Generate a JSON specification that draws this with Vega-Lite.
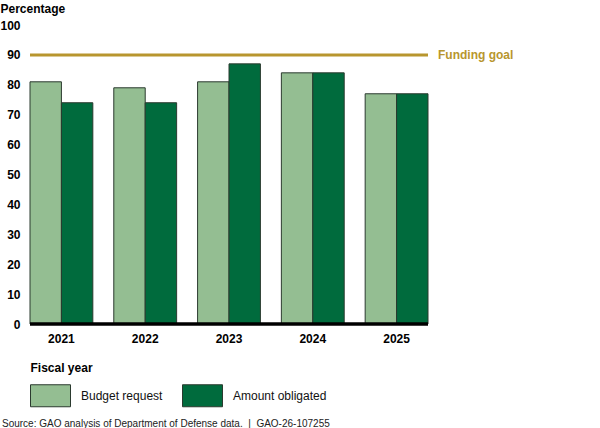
{
  "$schema": "https://vega.github.io/schema/vega-lite/v6.json",
  "width": 398,
  "height": 299,
  "autosize": {"type": "none"},
  "padding": {"left": 30, "top": 25, "right": 172, "bottom": 104},
  "background": "white",
  "title": {
    "text": "Source: GAO analysis of Department of Defense data.\u00a0 |\u00a0 GAO-26-107255",
    "orient": "bottom",
    "anchor": "start",
    "frame": "group",
    "font": "Liberation Sans",
    "fontSize": 10,
    "fontWeight": "normal",
    "color": "#222",
    "dx": -28,
    "offset": 10
  },
  "datasets": {
    "bars": [
      {"year": "2021", "series": "Budget request", "value": 81},
      {"year": "2021", "series": "Amount obligated", "value": 74},
      {"year": "2022", "series": "Budget request", "value": 79},
      {"year": "2022", "series": "Amount obligated", "value": 74},
      {"year": "2023", "series": "Budget request", "value": 81},
      {"year": "2023", "series": "Amount obligated", "value": 87},
      {"year": "2024", "series": "Budget request", "value": 84},
      {"year": "2024", "series": "Amount obligated", "value": 84},
      {"year": "2025", "series": "Budget request", "value": 77},
      {"year": "2025", "series": "Amount obligated", "value": 77}
    ],
    "goal": [
      {"year": "2025", "value": 90, "label": "Funding goal"}
    ],
    "base": [
      {"value": 0}
    ]
  },
  "encoding": {
    "x": {
      "field": "year",
      "type": "nominal",
      "scale": {"paddingInner": 0.25, "paddingOuter": 0},
      "axis": {
        "title": "Fiscal year",
        "titleFont": "Liberation Sans",
        "titleFontSize": 12,
        "titleFontWeight": "bold",
        "titleColor": "#000",
        "titleAnchor": "start",
        "titleAlign": "left",
        "titleX": 0,
        "titleY": 43,
        "titleBaseline": "middle",
        "labelFont": "Liberation Sans",
        "labelFontSize": 12,
        "labelFontWeight": "bold",
        "labelColor": "#000",
        "labelAngle": 0,
        "labelPadding": 9,
        "ticks": false,
        "domain": false
      }
    },
    "y": {
      "field": "value",
      "type": "quantitative",
      "scale": {"domain": [0, 100], "nice": false},
      "axis": {
        "values": [0, 10, 20, 30, 40, 50, 60, 70, 80, 90, 100],
        "labelOverlap": false,
        "title": "Percentage",
        "titleFont": "Liberation Sans",
        "titleFontSize": 12,
        "titleFontWeight": "bold",
        "titleColor": "#000",
        "titleAngle": 0,
        "titleAlign": "left",
        "titleBaseline": "middle",
        "titleX": -30,
        "titleY": -17,
        "labelFont": "Liberation Sans",
        "labelFontSize": 12,
        "labelFontWeight": "bold",
        "labelColor": "#000",
        "labelPadding": 10,
        "ticks": false,
        "domain": false,
        "grid": false
      }
    }
  },
  "layer": [
    {
      "data": {"name": "bars"},
      "mark": {"type": "bar", "stroke": "#2b3a2f", "strokeWidth": 1},
      "encoding": {
        "xOffset": {
          "field": "series",
          "type": "nominal",
          "sort": ["Budget request", "Amount obligated"],
          "scale": {"paddingInner": 0, "paddingOuter": 0}
        },
        "color": {
          "field": "series",
          "type": "nominal",
          "sort": ["Budget request", "Amount obligated"],
          "scale": {
            "domain": ["Budget request", "Amount obligated"],
            "range": ["#94be92", "#006b3d"]
          },
          "legend": {
            "title": null,
            "orient": "none",
            "legendX": 0,
            "legendY": 350,
            "direction": "horizontal",
            "symbolType": "M-1,-0.55H1V0.55H-1Z",
            "symbolSize": 1600,
            "symbolStrokeColor": "#2b3a2f",
            "symbolStrokeWidth": 1,
            "symbolOpacity": 1,
            "labelFont": "Liberation Sans",
            "labelFontSize": 12,
            "labelColor": "#111",
            "labelOffset": 10,
            "columnPadding": 17
          }
        }
      }
    },
    {
      "data": {"name": "goal"},
      "mark": {"type": "rule", "color": "#b8962e", "strokeWidth": 3},
      "encoding": {"x": null}
    },
    {
      "data": {"name": "goal"},
      "mark": {
        "type": "text",
        "align": "left",
        "baseline": "middle",
        "dx": 10,
        "font": "Liberation Sans",
        "fontSize": 12,
        "fontWeight": "bold",
        "color": "#b8962e"
      },
      "encoding": {
        "x": {"field": "year", "type": "nominal", "bandPosition": 1},
        "text": {"field": "label"}
      }
    },
    {
      "data": {"name": "base"},
      "mark": {"type": "rule", "color": "#000", "strokeWidth": 3.5},
      "encoding": {"x": null}
    }
  ],
  "config": {
    "view": {"stroke": null}
  }
}
